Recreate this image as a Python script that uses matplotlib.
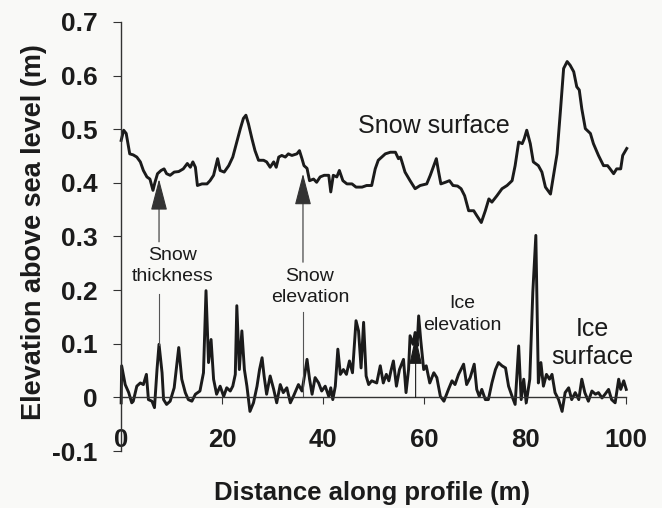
import matplotlib
matplotlib.use("Agg")
import matplotlib.pyplot as plt

plt.rcParams["font.family"] = ["Liberation Sans", "DejaVu Sans"]

# Snow surface profile (distance m, elevation m)
snow_x = [0, 0.5, 1.0, 1.7, 2.4, 3.1, 3.8, 4.4, 5.1, 5.7, 6.3, 6.7, 7.2, 7.9, 8.5,
          9.0, 9.7, 10.5, 11.4, 12.3, 13.1, 13.7, 14.2, 14.7, 15.1, 16.0, 17.0,
          17.6, 18.3, 19.1, 19.6, 20.4, 21.3, 22.1, 22.9, 23.6, 24.2, 24.7, 25.2,
          25.9, 26.5, 27.2, 28.2, 28.8, 29.5, 30.2, 30.7, 31.2, 31.8, 32.5, 33.1,
          33.8, 34.8, 35.3, 35.8, 36.2, 36.8, 37.3, 38.1, 38.7, 39.4, 40.2, 41.1,
          41.5, 42.0, 42.7, 43.2, 43.9, 44.7, 45.7, 46.5, 47.7, 48.6, 49.6, 50.3,
          50.9, 52.3, 53.3, 54.3, 54.9, 55.3, 55.6, 56.2, 57.2, 58.2, 59.2, 60.5,
          61.2, 61.9, 62.4, 62.8, 63.3, 64.2, 65.0, 65.7, 66.6, 67.3, 68.0, 68.8,
          69.8, 70.4, 71.3, 72.1, 72.8, 73.4, 74.4, 75.4, 76.4, 77.4, 78.0, 78.7,
          79.4, 79.8, 80.3, 81.0, 81.6, 82.6, 83.3, 84.0, 85.0, 85.6, 86.3, 87.0,
          87.6, 88.3, 88.9, 89.6, 90.2, 90.7, 91.2, 91.9, 92.9, 93.5, 94.5, 95.5,
          96.3, 96.8, 97.5, 98.1, 98.9, 99.3, 100.1]
snow_y = [0.479, 0.498, 0.492, 0.454, 0.452, 0.448, 0.439, 0.423, 0.411, 0.407,
          0.386, 0.401, 0.417, 0.423, 0.426, 0.417, 0.414, 0.420, 0.421, 0.426,
          0.436, 0.429, 0.439, 0.429, 0.395, 0.398, 0.398, 0.404, 0.414, 0.445,
          0.423, 0.420, 0.432, 0.448, 0.476, 0.501, 0.520, 0.526, 0.510, 0.482,
          0.460, 0.442, 0.442, 0.439, 0.429, 0.439, 0.429, 0.448, 0.451, 0.448,
          0.454, 0.451, 0.454, 0.460, 0.445, 0.432, 0.427, 0.404, 0.407, 0.401,
          0.411, 0.414, 0.414, 0.383, 0.414, 0.411, 0.423, 0.404, 0.398, 0.398,
          0.392, 0.392, 0.395, 0.395, 0.426, 0.442, 0.454, 0.457, 0.457, 0.445,
          0.448, 0.439, 0.420, 0.404, 0.389, 0.395, 0.398, 0.414, 0.432, 0.445,
          0.423, 0.398, 0.401, 0.404, 0.395, 0.394, 0.389, 0.376, 0.348, 0.348,
          0.339, 0.326, 0.348, 0.370, 0.364, 0.376, 0.389, 0.395, 0.404, 0.432,
          0.476, 0.473, 0.482, 0.498, 0.473, 0.439, 0.432, 0.420, 0.392, 0.379,
          0.414, 0.454, 0.538, 0.613, 0.626, 0.619, 0.607, 0.579, 0.573, 0.538,
          0.501, 0.492, 0.473, 0.451, 0.432, 0.432, 0.426, 0.417, 0.426, 0.426,
          0.451, 0.464]

# Ice surface profile
ice_x = [0, 0.1, 0.8, 1.5, 2.1, 2.4, 3.1, 3.8, 4.4, 5.0, 5.4, 6.1, 6.6, 7.1, 7.5,
         8.1, 8.4, 9.0, 9.7, 10.5, 11.4, 12.0, 12.7, 13.3, 14.0, 14.7, 15.6, 16.3,
         16.8, 17.3, 17.8, 18.3, 18.9, 19.6, 20.3, 20.9, 21.6, 22.1, 22.6, 22.9,
         23.4, 23.9, 24.4, 24.9, 25.5, 26.2, 26.9, 27.4, 27.9, 28.3, 28.8, 29.5,
         30.2, 30.8, 31.5, 32.1, 32.8, 33.5, 34.1, 35.1, 35.8, 36.4, 36.8, 37.3,
         37.8, 38.4, 39.1, 39.7, 40.4, 41.1, 41.5, 41.9, 42.4, 42.9, 43.4, 44.0,
         44.6, 45.2, 45.8, 46.5, 47.0, 47.5, 48.0, 48.5, 49.0, 49.6, 50.6, 51.3,
         51.9, 52.5, 53.0, 53.4, 53.9, 54.5, 55.1, 55.9, 56.4, 56.9, 57.2, 57.8,
         58.2, 58.6, 58.9, 59.3, 59.9, 60.4, 61.1, 61.9, 62.5, 63.2, 63.9, 64.8,
         65.5, 66.1, 66.8, 67.8, 68.4, 69.1, 69.9, 70.4, 70.9, 71.4, 72.1, 72.7,
         73.4, 74.1, 74.7, 75.4, 76.1, 76.7, 77.4, 78.0, 78.7, 79.2, 79.7, 80.2,
         80.9, 81.5, 82.1, 82.3, 82.6, 83.1, 83.6, 84.2, 84.8, 85.3, 85.9, 86.6,
         87.3, 87.9, 88.6, 89.2, 89.9, 90.6, 91.2, 91.8, 92.5, 93.2, 93.9, 94.5,
         95.2, 95.8, 96.5, 97.1, 97.8, 98.5, 98.9, 99.5, 100.0]
ice_y = [-0.010, 0.059, 0.024, 0.009, -0.010, -0.007, 0.021, 0.027, 0.024, 0.043,
         -0.004, -0.007, -0.019, 0.052, 0.099, 0.046, -0.004, -0.013, -0.007,
         0.018, 0.093, 0.034, 0.009, -0.004, -0.007, 0.006, 0.012, 0.046, 0.199,
         0.065, 0.108, 0.034, 0.006, 0.021, 0.002, 0.018, 0.012, 0.021, 0.043,
         0.171, 0.052, 0.124, 0.052, 0.021, -0.026, -0.010, 0.021, 0.052, 0.074,
         0.040, 0.006, 0.040, 0.015, -0.010, 0.024, 0.009, 0.018, -0.010, 0.002,
         0.024, 0.012, 0.046, 0.071, 0.034, 0.006, 0.037, 0.027, 0.012, 0.021,
         0.002, 0.018, -0.004, 0.021, 0.090, 0.043, 0.052, 0.043, 0.068, 0.046,
         0.143, 0.124, 0.055, 0.140, 0.040, 0.024, 0.031, 0.027, 0.059, 0.027,
         0.043, 0.031, 0.049, 0.068, 0.021, 0.052, 0.071, 0.009, 0.052, 0.115,
         0.099, 0.121, 0.096, 0.152, 0.108, 0.052, 0.059, 0.027, 0.046, 0.037,
         0.002, -0.007, 0.015, 0.031, 0.024, 0.043, 0.062, 0.024, 0.037, 0.062,
         0.015, 0.002, 0.015, -0.004, -0.004, 0.027, 0.052, 0.065, 0.059, 0.055,
         0.021, 0.002, -0.013, 0.096, -0.004, 0.034, -0.010, 0.034, 0.196, 0.302,
         0.196, 0.027, 0.065, 0.021, 0.043, 0.034, 0.043, 0.009, -0.004, -0.026,
         0.009, 0.018, -0.004, 0.009, -0.004, 0.034, 0.009, -0.007, 0.012, 0.006,
         0.009, -0.001, 0.006, 0.015, -0.004, -0.010, 0.034, 0.015, 0.031, 0.015]

x_ticks = [0, 20, 40, 60, 80, 100]
y_ticks = [-0.1, 0, 0.1, 0.2, 0.3, 0.4, 0.5, 0.6, 0.7]
y_ticklabels = ["-0.1", "0", "0.1", "0.2", "0.3", "0.4", "0.5", "0.6", "0.7"]

INK = "#1b1b1b"
BG = "#f9f9f7"

fig = plt.figure(figsize=(6.62, 5.08), dpi=100, facecolor=BG)
ax = fig.add_axes([0.183, 0.112, 0.763, 0.845], facecolor=BG)

ax.plot(snow_x, snow_y, color=INK, linewidth=2.1, clip_on=False)
ax.plot(ice_x, ice_y, color=INK, linewidth=2.1, clip_on=False)

# arrows and leader lines
arrow_kw = dict(arrowstyle="-|>,head_length=1.0,head_width=0.26",
                mutation_scale=20, color="#333333", lw=0.8,
                shrinkA=0, shrinkB=0)
ax.annotate("", xy=(7.5, 0.407), xytext=(7.5, 0.29), arrowprops=arrow_kw)
ax.plot([7.5, 7.5], [0.097, 0.193], color="#555555", lw=0.8)
ax.annotate("", xy=(36.0, 0.417), xytext=(36.0, 0.252), arrowprops=arrow_kw)
ax.plot([36.0, 36.0], [0.0, 0.159], color="#555555", lw=0.8)
ax.annotate("", xy=(58.3, 0.115), xytext=(58.3, 0.0),
            arrowprops=dict(arrowstyle="-|>,head_length=0.9,head_width=0.2",
                            mutation_scale=20, color=INK, lw=0.8,
                            shrinkA=0, shrinkB=0))

ax.text(62.0, 0.505, "Snow surface", fontsize=18, ha="center", va="center", color=INK)
ax.text(93.3, 0.101, "Ice\nsurface", fontsize=18, ha="center", va="center",
        color=INK, linespacing=1.2)
ax.text(10.1, 0.245, "Snow\nthickness", fontsize=14, ha="center", va="center",
        color=INK, linespacing=1.35)
ax.text(37.4, 0.206, "Snow\nelevation", fontsize=14, ha="center", va="center",
        color=INK, linespacing=1.35)
ax.text(67.6, 0.155, "Ice\nelevation", fontsize=14, ha="center", va="center",
        color=INK, linespacing=1.35)

ax.set_xlim(0, 100)
ax.set_ylim(-0.1, 0.7)
ax.spines["top"].set_visible(False)
ax.spines["right"].set_visible(False)
ax.spines["bottom"].set_position(("data", 0))
for s in ("left", "bottom"):
    ax.spines[s].set_color("#333333")
    ax.spines[s].set_linewidth(1.0)

ax.set_xticks(x_ticks)
ax.set_yticks(y_ticks)
ax.set_yticklabels(y_ticklabels)
ax.tick_params(axis="x", direction="out", length=5, width=0.8, pad=17,
               labelsize=18.5, colors="#333333", labelcolor=INK)
ax.tick_params(axis="y", direction="out", length=6, width=0.8, pad=11,
               labelsize=19, colors="#333333", labelcolor=INK)
for lab in ax.get_xticklabels() + ax.get_yticklabels():
    lab.set_fontweight("bold")

fig.text(34 / 662, 1 - 232 / 508, "Elevation above sea level (m)", rotation=90,
         fontsize=19.5, fontweight="bold", ha="center", va="center", color=INK)
fig.text(372 / 662, 1 - 493 / 508, "Distance along profile (m)",
         fontsize=18.5, fontweight="bold", ha="center", va="center", color=INK)

fig.savefig("out.png", dpi=100, facecolor=BG)
